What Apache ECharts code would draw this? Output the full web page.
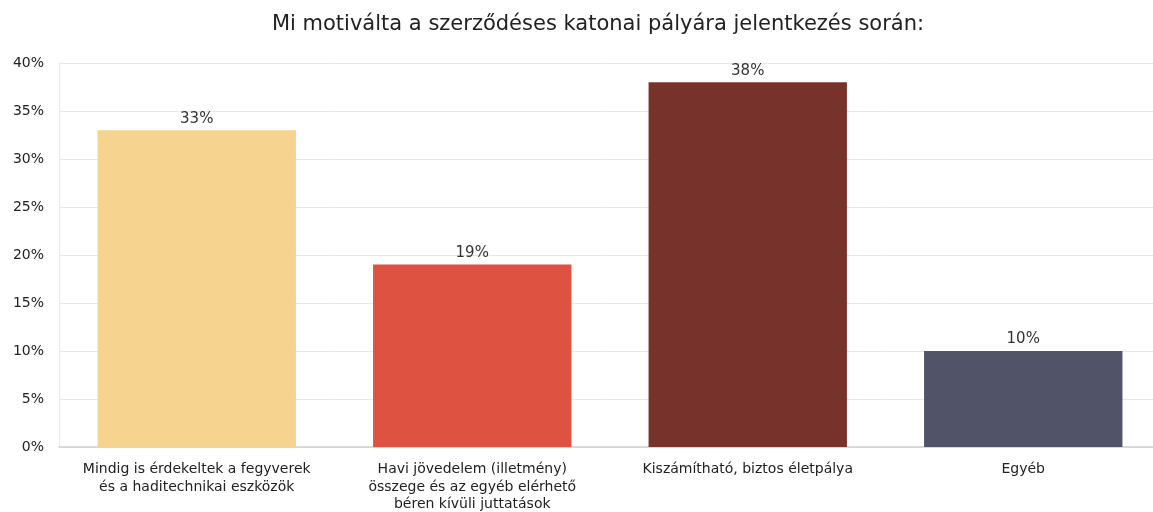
<!DOCTYPE html>
<html>
<head>
<meta charset="utf-8">
<script src="https://cdn.jsdelivr.net/npm/echarts@6/dist/echarts.min.js"></script>
<style>
  html, body { margin: 0; padding: 0; background: #fff; }
  #chart { width: 1153px; height: 512px; }
</style>
</head>
<body>
<div id="chart"></div>
<script>
var categories = [
  'Mindig is érdekeltek a fegyverek\nés a haditechnikai eszközök',
  'Havi jövedelem (illetmény)\nösszege és az egyéb elérhető\nbéren kívüli juttatások',
  'Kiszámítható, biztos életpálya',
  'Egyéb'
];
var values = [33, 19, 38, 10];
var barColors = ['#f6d38f', '#dd5240', '#77332b', '#515468'];

var chartDom = document.getElementById('chart');
var myChart = echarts.init(chartDom);
var option;

var font = 'DejaVu Sans';

option = {
  title: {
    text: 'Mi motiválta a szerződéses katonai pályára jelentkezés során:',
    left: 593,
    top: 9,
    textAlign: 'center',
    textStyle: {
      fontFamily: font,
      fontSize: 21,
      fontWeight: 'normal',
      color: '#222'
    }
  },
  grid: {
    left: 59,
    width: 1102,
    top: 63,
    bottom: 65,
    outerBoundsMode: 'none'
  },
  xAxis: {
    type: 'category',
    data: categories,
    axisTick: { show: false },
    axisLine: { lineStyle: { color: '#cfcfcf', width: 1.5 } },
    axisLabel: {
      interval: 0,
      margin: 14,
      fontFamily: font,
      fontSize: 14,
      lineHeight: 17.5,
      color: '#222'
    }
  },
  yAxis: {
    type: 'value',
    min: 0,
    max: 40,
    interval: 5,
    axisLine: { show: true, lineStyle: { color: '#e8e8e8' } },
    splitLine: { lineStyle: { color: '#e8e8e8' } },
    axisLabel: {
      formatter: '{value}%',
      margin: 15,
      fontFamily: font,
      fontSize: 14,
      color: '#222'
    }
  },
  series: [
    {
      type: 'bar',
      barWidth: '72%',
      data: values.map(function (v, i) {
        return { value: v, itemStyle: { color: barColors[i] } };
      }),
      label: {
        show: true,
        position: 'top',
        distance: 4,
        formatter: '{c}%',
        fontFamily: font,
        fontSize: 15,
        color: '#333'
      }
    }
  ]
};

option && myChart.setOption(option);
</script>
</body>
</html>
